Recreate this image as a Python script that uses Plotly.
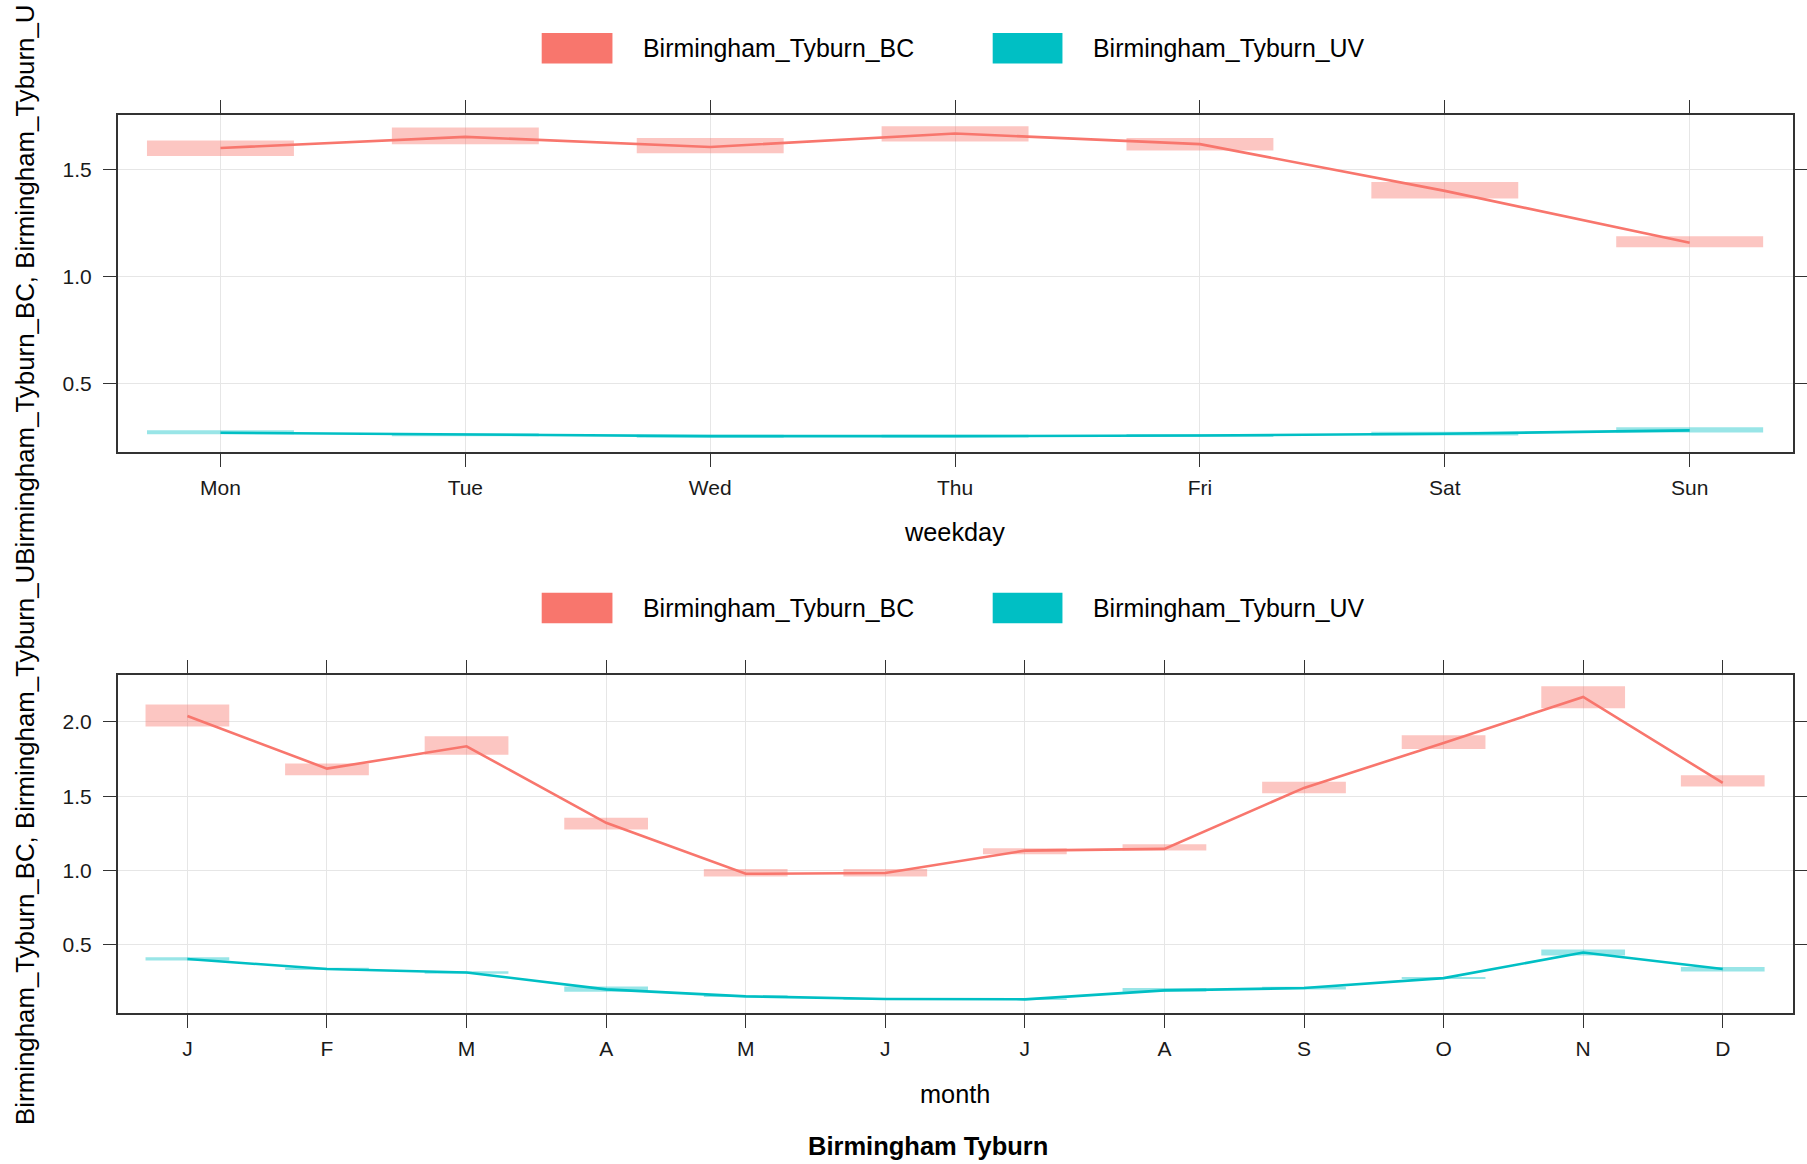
import plotly.graph_objects as go

# ---------------- data ----------------
weekdays = ["Mon", "Tue", "Wed", "Thu", "Fri", "Sat", "Sun"]
bc_week_mean = [1.60, 1.652, 1.605, 1.668, 1.618, 1.400, 1.158]
bc_week_lo = [1.563, 1.618, 1.576, 1.630, 1.588, 1.365, 1.137]
bc_week_hi = [1.635, 1.696, 1.647, 1.702, 1.647, 1.442, 1.188]
uv_week_mean = [0.272, 0.263, 0.256, 0.256, 0.259, 0.267, 0.283]
uv_week_lo = [0.265, 0.256, 0.249, 0.250, 0.252, 0.259, 0.273]
uv_week_hi = [0.284, 0.270, 0.262, 0.262, 0.266, 0.277, 0.297]

months = ["J", "F", "M", "A", "M ", "J ", "J  ", "A ", "S", "O", "N", "D"]
month_labels = ["J", "F", "M", "A", "M", "J", "J", "A", "S", "O", "N", "D"]
bc_month_mean = [2.04, 1.686, 1.836, 1.321, 0.978, 0.983, 1.134, 1.146, 1.556, 1.859, 2.168, 1.590]
bc_month_lo = [1.969, 1.641, 1.780, 1.276, 0.960, 0.960, 1.110, 1.134, 1.520, 1.818, 2.092, 1.565]
bc_month_hi = [2.117, 1.720, 1.903, 1.355, 1.011, 1.010, 1.150, 1.177, 1.597, 1.910, 2.240, 1.641]
uv_month_mean = [0.404, 0.337, 0.314, 0.200, 0.153, 0.135, 0.133, 0.193, 0.209, 0.276, 0.448, 0.337]
uv_month_lo = [0.395, 0.330, 0.306, 0.184, 0.148, 0.130, 0.128, 0.184, 0.200, 0.270, 0.428, 0.320]
uv_month_hi = [0.417, 0.345, 0.322, 0.220, 0.160, 0.141, 0.138, 0.209, 0.218, 0.284, 0.468, 0.350]

series_names = ["Birmingham_Tyburn_BC", "Birmingham_Tyburn_UV"]
colors = ["#F8766D", "#00BFC4"]
ci_colors = ["rgba(248,118,109,0.42)", "rgba(0,191,196,0.40)"]

W, H = 1807, 1164
FONT = "Liberation Sans, Arial, sans-serif"


def px(x):
    return x / W


def py(y):
    return 1 - y / H


fig = go.Figure()


def add_panel(cats, means, los, his, xa, ya):
    for i in range(2):
        fig.add_trace(go.Bar(
            x=cats, y=[h - l for h, l in zip(his[i], los[i])], base=los[i],
            width=0.6, marker=dict(color=ci_colors[i], line=dict(width=0)),
            showlegend=False, xaxis=xa, yaxis=ya, hoverinfo="skip"))
    for i in range(2):
        fig.add_trace(go.Scatter(
            x=cats, y=means[i], mode="lines",
            line=dict(color=colors[i], width=2.6),
            showlegend=False, xaxis=xa, yaxis=ya))


add_panel(weekdays, [bc_week_mean, uv_week_mean], [bc_week_lo, uv_week_lo],
          [bc_week_hi, uv_week_hi], "x", "y")
add_panel(months, [bc_month_mean, uv_month_mean], [bc_month_lo, uv_month_lo],
          [bc_month_hi, uv_month_hi], "x2", "y2")

axis_common = dict(
    showline=True, linecolor="#333333", linewidth=1.5, mirror="ticks",
    ticks="outside", ticklen=13, tickwidth=1.3, tickcolor="#333333",
    showgrid=True, gridcolor="#e6e6e6", gridwidth=1, zeroline=False,
    tickfont=dict(family=FONT, size=21, color="#1a1a1a"),
)

XL, XR = 118, 1798.5

fig.update_layout(
    width=W, height=H, margin=dict(l=0, r=0, t=0, b=0),
    paper_bgcolor="white", plot_bgcolor="white", barmode="overlay",
    showlegend=False,
    xaxis=dict(domain=[px(XL), px(XR)], anchor="y", type="category",
               range=[-0.42, 6.42], ticklabelstandoff=3, **axis_common),
    yaxis=dict(domain=[py(452), py(115)], anchor="x", range=[0.182, 1.754],
               tickvals=[0.5, 1.0, 1.5], tickformat=".1f", ticklabelstandoff=7,
               **axis_common),
    xaxis2=dict(domain=[px(XL), px(XR)], anchor="y2", type="category",
                range=[-0.5, 11.5], tickvals=months, ticktext=month_labels,
                ticklabelstandoff=3, **axis_common),
    yaxis2=dict(domain=[py(1013), py(675)], anchor="x2", range=[0.041, 2.316],
                tickvals=[0.5, 1.0, 1.5, 2.0], tickformat=".1f", ticklabelstandoff=7,
                **axis_common),
)

# legends (one above each panel)
for off in [0, 559.7]:
    for i, (rx0, rx1, tx) in enumerate([(543.5, 614.5, 643), (996, 1066, 1095)]):
        fig.add_shape(type="rect", xref="paper", yref="paper",
                      x0=px(rx0), x1=px(rx1), y0=py(33 + off), y1=py(63.5 + off),
                      fillcolor=colors[i], line=dict(width=0))
        fig.add_annotation(xref="paper", yref="paper", x=px(tx), y=py(48.5 + off),
                           xanchor="left", yanchor="middle", showarrow=False,
                           text=series_names[i],
                           font=dict(family=FONT, size=24.9, color="#000000"))

# axis titles
fig.add_annotation(xref="paper", yref="paper", x=px(958), y=py(532),
                   text="weekday", showarrow=False, xanchor="center", yanchor="middle",
                   font=dict(family=FONT, size=25.3, color="#000000"))
fig.add_annotation(xref="paper", yref="paper", x=px(958), y=py(1094),
                   text="month", showarrow=False, xanchor="center", yanchor="middle",
                   font=dict(family=FONT, size=25.3, color="#000000"))
fig.add_annotation(xref="paper", yref="paper", x=px(25), y=py(565),
                   text="Birmingham_Tyburn_BC, Birmingham_Tyburn_UBirmingham_Tyburn_BC, Birmingham_Tyburn_U",
                   textangle=-90, showarrow=False, xanchor="center", yanchor="middle",
                   font=dict(family=FONT, size=25.85, color="#000000"))
fig.add_annotation(xref="paper", yref="paper", x=px(931), y=py(1146),
                   text="<b>Birmingham Tyburn</b>", showarrow=False,
                   xanchor="center", yanchor="middle",
                   font=dict(family=FONT, size=25.5, color="#000000"))

page_fix = ("document.body.style.margin='0';document.body.style.overflow='hidden';"
            "document.documentElement.style.overflow='hidden';")
fig.write_html("out.html", post_script=page_fix, config={"displayModeBar": False})
